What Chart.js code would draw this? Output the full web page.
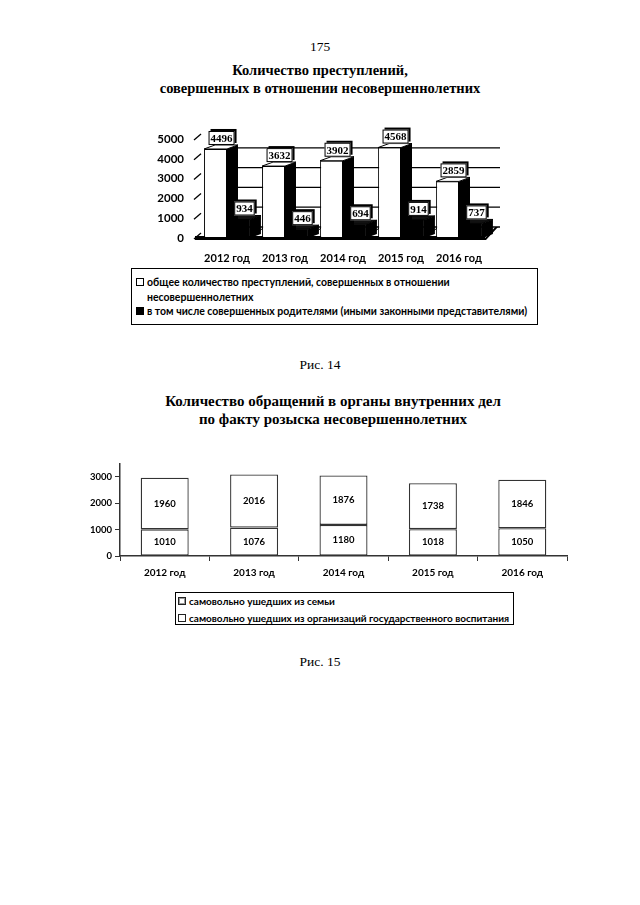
<!DOCTYPE html>
<html lang="ru">
<head>
<meta charset="utf-8">
<title>Рис. 14, Рис. 15</title>
<script src="https://cdn.jsdelivr.net/npm/chart.js"></script>
<style>
  body { margin: 0; background: #fff; }
  #page { position: relative; width: 640px; height: 905px; overflow: hidden; background: #fff; color: #000; }
  .line { position: absolute; left: 0; width: 640px; text-align: center; font-family: "Liberation Serif", serif; }
  .ttl { font-weight: bold; font-size: 14.5px; }
  .cap { font-size: 13.5px; }
  canvas { position: absolute; }
  .legend { position: absolute; border: 1px solid #000; box-sizing: border-box; font-family: Lato, sans-serif; font-weight: bold; }
  .legend .item { display: flex; align-items: flex-start; }
  .legend .mark { flex: none; box-sizing: border-box; width: 8px; height: 8px; border: 1px solid #000; margin-right: 3px; }
</style>
</head>
<body>
<div id="page">
  <div class="line cap" style="top:39px">175</div>
  <div class="line ttl" style="top:62px">Количество преступлений,</div>
  <div class="line ttl" style="top:80px">совершенных в отношении несовершеннолетних</div>

  <canvas id="crimeChart" width="400" height="145" style="left:120px; top:120px"></canvas>
  <div id="crimeLegend" class="legend" style="left:131px; top:268px; width:407px; height:57px; font-size:10.5px; line-height:14.5px; padding:6px 0 0 4px"></div>

  <div class="line cap" style="top:357px">Рис. 14</div>

  <div class="line ttl" style="top:393px; left:13px; font-size:15px">Количество обращений в органы внутренних дел</div>
  <div class="line ttl" style="top:411px; left:13px; font-size:15px">по факту розыска несовершеннолетних</div>

  <canvas id="searchChart" width="500" height="130" style="left:80px; top:455px"></canvas>
  <div id="searchLegend" class="legend" style="left:175px; top:592px; width:339px; height:33px; font-size:10px; line-height:16.5px; padding:0 0 0 2px"></div>

  <div class="line cap" style="top:654px">Рис. 15</div>
</div>

<script>
// DATA - figure 14
const years = ["2012 год", "2013 год", "2014 год", "2015 год", "2016 год"];
const totalCrimes = [4496, 3632, 3902, 4568, 2859];
const byParents = [934, 446, 694, 914, 737];
const crimeTicks = [0, 1000, 2000, 3000, 4000, 5000];
const crimeSeries = [
  "общее количество преступлений, совершенных в отношении несовершеннолетних",
  "в том числе совершенных родителями (иными законными представителями)"
];

// DATA - figure 15
const fromFamily = [1960, 2016, 1876, 1738, 1846];
const fromInstitutions = [1010, 1076, 1180, 1018, 1050];
const searchTicks = [0, 1000, 2000, 3000];
const searchSeries = [
  "самовольно ушедших из семьи",
  "самовольно ушедших из организаций государственного воспитания"
];

const DX = 11, DY = 4;     // bar depth
const WDX = 12, WDY = 11;  // wall depth

// 3D walls and floor behind the bars
const wall3d = {
  id: "wall3d",
  beforeDatasetsDraw(chart) {
    const { ctx, chartArea: a, scales } = chart;
    const y = scales.y, x = scales.x;
    ctx.save();
    ctx.strokeStyle = "#000";
    ctx.lineWidth = 1.3;
    crimeTicks.forEach(v => {
      const py = y.getPixelForValue(v);
      // back wall line (top edge of the wall is not drawn)
      if (v < y.max) {
        ctx.beginPath();
        ctx.moveTo(a.left + WDX, py - WDY);
        ctx.lineTo(a.right + WDX, py - WDY);
        ctx.stroke();
      }
      // slanted tick at the front edge
      ctx.beginPath();
      ctx.moveTo(a.left - 4, py + 1);
      ctx.lineTo(a.left + 3, py - 5);
      ctx.stroke();
    });
    // floor dividers
    ctx.lineWidth = 1;
    const n = x.ticks.length;
    for (let i = 1; i <= n; i++) {
      const bx = (x.getPixelForValue(i - 1) + x.getPixelForValue(Math.min(i, n - 1))) / 2;
      const px = i === n ? a.right : bx;
      ctx.beginPath();
      ctx.moveTo(px - 4, a.bottom);
      ctx.lineTo(px + WDX - 4, a.bottom - WDY);
      ctx.stroke();
    }
    // floor front edge
    ctx.fillStyle = "#000";
    ctx.beginPath();
    ctx.moveTo(a.left - 3, a.bottom + 1);
    ctx.lineTo(a.right - 4, a.bottom + 1);
    ctx.lineTo(a.right + WDX - 4, a.bottom - WDY);
    ctx.lineTo(a.right + WDX - 2, a.bottom - WDY);
    ctx.lineTo(a.right - 2, a.bottom + 2);
    ctx.lineTo(a.left - 3, a.bottom + 2);
    ctx.closePath();
    ctx.fill();
    ctx.fillRect(a.left - 3, a.bottom - 2, a.right - a.left, 3);
    ctx.restore();
  },
  afterDatasetDraw(chart, args) {
    const { ctx } = chart;
    const dark = args.index === 1;
    ctx.save();
    args.meta.data.forEach(el => {
      const { x, y, base, width } = el.getProps(["x", "y", "base", "width"], true);
      const l = x - width / 2, r = x + width / 2;
      // side
      ctx.fillStyle = "#000";
      ctx.beginPath();
      ctx.moveTo(r, y);
      ctx.lineTo(r + DX, y - DY);
      ctx.lineTo(r + DX, base - DY);
      ctx.lineTo(r, base);
      ctx.closePath();
      ctx.fill();
      // top
      ctx.fillStyle = dark ? "#111" : "#fff";
      ctx.strokeStyle = "#000";
      ctx.lineWidth = 1;
      ctx.beginPath();
      ctx.moveTo(l, y);
      ctx.lineTo(l + DX, y - DY);
      ctx.lineTo(r + DX, y - DY);
      ctx.lineTo(r, y);
      ctx.closePath();
      ctx.fill();
      ctx.stroke();
    });
    ctx.restore();
  }
};

// value boxes above the 3D bars
const crimeLabels = {
  id: "crimeLabels",
  afterDatasetsDraw(chart) {
    const { ctx } = chart;
    ctx.save();
    ctx.font = 'bold 11px "Liberation Serif"';
    ctx.textAlign = "center";
    ctx.textBaseline = "middle";
    chart.data.datasets.forEach((ds, di) => {
      chart.getDatasetMeta(di).data.forEach((el, i) => {
        const text = String(ds.data[i]);
        const cx = el.x + 6, cy = el.y - 11;
        const w = ctx.measureText(text).width + 4, h = 14;
        ctx.fillStyle = "#000";
        ctx.fillRect(cx - w / 2 + 2, cy - h / 2 - 2, w, h);
        ctx.fillStyle = "#fff";
        ctx.fillRect(cx - w / 2, cy - h / 2, w, h);
        ctx.strokeStyle = "#000";
        ctx.lineWidth = 1;
        ctx.strokeRect(cx - w / 2 + 0.5, cy - h / 2 + 0.5, w - 1, h - 1);
        ctx.fillStyle = "#000";
        ctx.fillText(text, cx, cy + 1);
      });
    });
    ctx.restore();
  }
};

// numbers in the middle of each stacked segment
const segmentLabels = {
  id: "segmentLabels",
  afterDatasetsDraw(chart) {
    const { ctx } = chart;
    ctx.save();
    ctx.font = "bold 9.5px Lato";
    ctx.fillStyle = "#000";
    ctx.textAlign = "center";
    ctx.textBaseline = "middle";
    chart.data.datasets.forEach((ds, di) => {
      chart.getDatasetMeta(di).data.forEach((el, i) => {
        ctx.fillText(String(ds.data[i]), el.x, (el.y + el.base) / 2);
      });
    });
    ctx.restore();
  }
};

const plain = v => String(v);

// CHART - figure 14
new Chart(document.getElementById("crimeChart"), {
  type: "bar",
  data: {
    labels: years,
    datasets: [
      { label: crimeSeries[0], data: totalCrimes, backgroundColor: "#fff", borderColor: "#000", borderWidth: 1, borderSkipped: false },
      { label: crimeSeries[1], data: byParents, backgroundColor: "#000", borderColor: "#000", borderWidth: 0 }
    ]
  },
  options: {
    responsive: false,
    animation: false,
    devicePixelRatio: 1,
    layout: { padding: { top: 19, right: 32, left: 0, bottom: 0 } },
    datasets: { bar: { categoryPercentage: 0.79, barPercentage: 1 } },
    plugins: { legend: { display: false }, tooltip: { enabled: false } },
    scales: {
      x: {
        grid: { display: false },
        border: { display: false },
        ticks: { color: "#000", font: { family: "Lato", weight: "bold", size: 11 }, padding: 6 },
        afterFit: s => { s.height = 27; }
      },
      y: {
        min: 0, max: 5000,
        grid: { display: false },
        border: { display: false },
        ticks: { stepSize: 1000, callback: plain, color: "#000", font: { family: "Lato", weight: "bold", size: 11.5 }, padding: 6 },
        afterFit: s => { s.width = 78; }
      }
    }
  },
  plugins: [wall3d, crimeLabels]
});

// CHART - figure 15
new Chart(document.getElementById("searchChart"), {
  type: "bar",
  data: {
    labels: years,
    datasets: [
      { label: searchSeries[1], data: fromInstitutions, backgroundColor: "#fff", borderColor: "#333", borderWidth: 1.3, borderSkipped: false },
      { label: searchSeries[0], data: fromFamily, backgroundColor: "#fff", borderColor: "#333", borderWidth: 1.3, borderSkipped: false }
    ]
  },
  options: {
    responsive: false,
    animation: false,
    devicePixelRatio: 1,
    layout: { padding: { top: 8, right: 13, left: 0, bottom: 0 } },
    datasets: { bar: { categoryPercentage: 0.537, barPercentage: 1 } },
    plugins: { legend: { display: false }, tooltip: { enabled: false } },
    scales: {
      x: {
        stacked: true,
        grid: { drawOnChartArea: false, tickLength: 5, color: "#333", offset: true },
        border: { color: "#333", width: 1.5 },
        ticks: { color: "#000", font: { family: "Lato", weight: "bold", size: 10 }, padding: 6 },
        afterFit: s => { s.height = 29; }
      },
      y: {
        stacked: true,
        min: 0, max: 3500,
        grid: { drawOnChartArea: false, tickLength: 5, color: "#333" },
        border: { color: "#333", width: 1.5 },
        ticks: { stepSize: 1000, callback: plain, color: "#000", font: { family: "Lato", weight: "bold", size: 9.5 }, padding: 3 },
        afterBuildTicks: s => { s.ticks = searchTicks.map(v => ({ value: v })); },
        afterFit: s => { s.width = 40; }
      }
    }
  },
  plugins: [segmentLabels]
});

// LEGENDS
function renderLegend(id, names, marks) {
  document.getElementById(id).innerHTML = names.map((n, i) => `
    <div class="item"><span class="mark" style="${marks[i]}"></span><span>${n}</span></div>
  `).join("");
}

renderLegend("crimeLegend", crimeSeries, [
  "background:#fff; margin-top:3px",
  "background:#000; margin-top:3px"
]);
renderLegend("searchLegend", searchSeries, [
  "background:#fff; border-color:#222; box-shadow: inset 0 0 0 1px #999; margin-top:4px",
  "background:#fff; border-color:#222; margin-top:4px"
]);
</script>
</body>
</html>
